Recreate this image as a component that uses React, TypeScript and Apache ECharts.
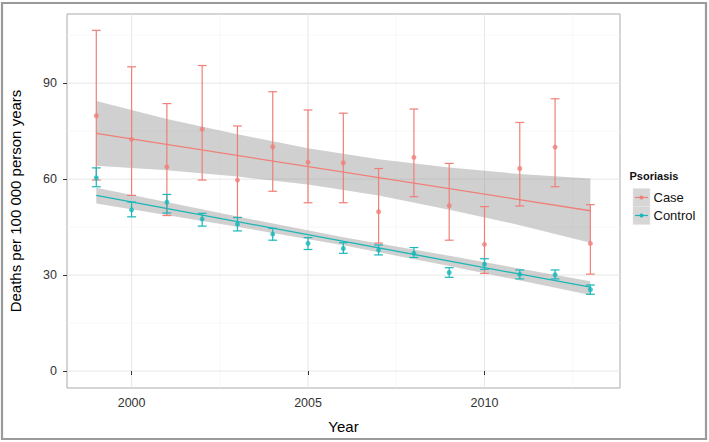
import React, { useEffect, useRef } from "react";
import * as echarts from "echarts";

// ---- data ----
const years = [1999, 2000, 2001, 2002, 2003, 2004, 2005, 2006, 2007, 2008, 2009, 2010, 2011, 2012, 2013];

const caseRate = [79.8, 72.4, 63.8, 75.6, 59.7, 70.1, 65.3, 65.1, 49.8, 66.8, 51.7, 39.6, 63.3, 70.0, 39.9];
const caseLow = [59.7, 54.9, 48.6, 59.7, 48.0, 56.2, 52.6, 52.6, 40.0, 54.5, 40.9, 30.5, 51.6, 57.6, 30.3];
const caseHigh = [106.5, 95.1, 83.6, 95.5, 76.6, 87.3, 81.6, 80.6, 63.3, 81.9, 64.9, 51.4, 77.7, 85.1, 52.0];

const controlRate = [60.4, 50.4, 52.8, 47.5, 45.9, 42.8, 39.9, 38.3, 37.8, 36.8, 30.8, 33.4, 30.2, 30.1, 25.5];
const controlLow = [57.6, 48.2, 49.4, 45.3, 43.8, 40.9, 38.0, 36.8, 36.3, 35.5, 29.3, 31.8, 28.8, 28.8, 24.0];
const controlHigh = [63.5, 52.8, 55.2, 49.3, 48.0, 44.6, 41.7, 40.1, 39.4, 38.6, 32.3, 35.1, 31.6, 31.6, 26.9];

// fitted trend lines (end points)
const caseFit = [[1999, 74.3], [2013, 50.1]];
const controlFit = [[1999, 54.9], [2013, 26.2]];

// confidence bands
const caseBandYears = [1999, 2001, 2003, 2005, 2007, 2009, 2011, 2013];
const caseBandUpper = [84.4, 78.8, 74.0, 69.6, 66.2, 63.6, 61.6, 60.2];
const caseBandLower = [64.2, 62.8, 60.8, 58.3, 54.9, 50.4, 45.6, 40.1];

const controlBandYears = [1999, 2003, 2006, 2009, 2013];
const controlBandUpper = [57.3, 48.3, 41.8, 36.0, 28.1];
const controlBandLower = [52.4, 45.1, 39.3, 32.8, 23.8];

const xTicks = [2000, 2005, 2010];
const xMinorGrid = [2002.5, 2007.5, 2012.5];
const yTicks = [0, 30, 60, 90];
const yMinorGrid = [15, 45, 75, 105];

const groupNames = ["Case", "Control"];
const legendTitle = "Psoriasis";
const xTitle = "Year";
const yTitle = "Deaths per 100 000 person years";

const X_MIN = 1998.17;
const X_MAX = 2013.84;
const Y_MIN = -5.3;
const Y_MAX = 111.6;

const CASE_COLOR = "#EF7F78";
const CONTROL_COLOR = "#1AB6B8";
const FONT = "Liberation Sans, Arial, sans-serif";

function gridSeries() {
  const items: any[] = [];
  xTicks.forEach((v) => items.push([0, v, 1]));
  xMinorGrid.forEach((v) => items.push([0, v, 0]));
  yTicks.forEach((v) => items.push([1, v, 1]));
  yMinorGrid.forEach((v) => items.push([1, v, 0]));
  return {
    type: "custom",
    silent: true,
    z: 0,
    data: items,
    encode: { x: 1, y: 1 },
    renderItem: (params: any, api: any) => {
      const dir = api.value(0);
      const v = api.value(1);
      const major = api.value(2) === 1;
      let a: number[];
      let b: number[];
      if (dir === 0) {
        a = api.coord([v, Y_MIN]);
        b = api.coord([v, Y_MAX]);
      } else {
        a = api.coord([X_MIN, v]);
        b = api.coord([X_MAX, v]);
      }
      return {
        type: "line",
        shape: { x1: a[0], y1: a[1], x2: b[0], y2: b[1] },
        style: { stroke: major ? "#e6e6e6" : "#f3f3f3", lineWidth: major ? 1 : 0.7 },
      };
    },
  };
}

function bandSeries(bx: number[], up: number[], lo: number[]) {
  return {
    type: "custom",
    silent: true,
    z: 2,
    data: bx.map((x, i) => [x, lo[i], up[i]]),
    encode: { x: 0, y: [1, 2] },
    renderItem: (params: any, api: any) => {
      if (params.dataIndexInside !== 0) return { type: "group", children: [] };
      const n = params.dataInsideLength;
      const pts: number[][] = [];
      for (let i = 0; i < n; i++) pts.push(api.coord([api.value(0, i), api.value(2, i)]));
      for (let i = n - 1; i >= 0; i--) pts.push(api.coord([api.value(0, i), api.value(1, i)]));
      return {
        type: "polygon",
        shape: { points: pts },
        style: { fill: "rgba(150,150,150,0.45)", stroke: "none" },
      };
    },
  };
}

function errorSeries(lo: number[], hi: number[], color: string) {
  const capHalf = 0.125;
  return {
    type: "custom",
    silent: true,
    z: 4,
    data: years.map((x, i) => [x, lo[i], hi[i]]),
    encode: { x: 0, y: [1, 2] },
    renderItem: (params: any, api: any) => {
      const x = api.value(0);
      const l = api.value(1);
      const h = api.value(2);
      const top = api.coord([x, h]);
      const bot = api.coord([x, l]);
      const tl = api.coord([x - capHalf, h]);
      const tr = api.coord([x + capHalf, h]);
      const bl = api.coord([x - capHalf, l]);
      const br = api.coord([x + capHalf, l]);
      const style = { stroke: color, lineWidth: 1.2 };
      return {
        type: "group",
        children: [
          { type: "line", shape: { x1: top[0], y1: top[1], x2: bot[0], y2: bot[1] }, style },
          { type: "line", shape: { x1: tl[0], y1: tl[1], x2: tr[0], y2: tr[1] }, style },
          { type: "line", shape: { x1: bl[0], y1: bl[1], x2: br[0], y2: br[1] }, style },
        ],
      };
    },
  };
}

function legendKey(y: number, color: string, label: string) {
  return [
    { type: "rect", shape: { x: 633, y, width: 17, height: 18 }, style: { fill: "#d6d6d6", stroke: "#e4e4e4", lineWidth: 0.5 } },
    { type: "line", shape: { x1: 635, y1: y + 9, x2: 648, y2: y + 9 }, style: { stroke: color, lineWidth: 1.2 } },
    { type: "circle", shape: { cx: 641.5, cy: y + 9, r: 2 }, style: { fill: color } },
    {
      type: "text",
      x: 653.5,
      y: y + 9,
      style: { text: label, font: `13px ${FONT}`, fill: "#111", verticalAlign: "middle", align: "left" },
    },
  ];
}

export default function App() {
  const ref = useRef<HTMLDivElement>(null);
  useEffect(() => {
    if (!ref.current) return;
    const chart = echarts.init(ref.current, undefined, { renderer: "svg" });
    const option: any = {
      animation: false,
      backgroundColor: "#ffffff",
      textStyle: { fontFamily: FONT },
      grid: {
        left: 62,
        top: 14,
        right: 89,
        bottom: 54,
        show: true,
        borderColor: "#ababab",
        borderWidth: 1,
        backgroundColor: "#ffffff",
        containLabel: false,
      },
      xAxis: {
        type: "value",
        min: X_MIN,
        max: X_MAX,
        splitLine: { show: false },
        axisLine: { show: false },
        axisTick: { show: true, customValues: xTicks, length: 4, lineStyle: { color: "#333" } },
        axisLabel: {
          customValues: xTicks,
          margin: 8,
          fontSize: 12.5,
          color: "#333",
          fontFamily: FONT,
          formatter: (v: number) => String(v),
        },
        name: xTitle,
        nameLocation: "middle",
        nameGap: 31,
        nameTextStyle: { fontSize: 15, color: "#000", fontFamily: FONT },
      },
      yAxis: {
        type: "value",
        min: Y_MIN,
        max: Y_MAX,
        splitLine: { show: false },
        axisLine: { show: false },
        axisTick: { show: true, customValues: yTicks, length: 4, lineStyle: { color: "#333" } },
        axisLabel: {
          customValues: yTicks,
          margin: 10,
          fontSize: 12.5,
          color: "#333",
          fontFamily: FONT,
          formatter: (v: number) => String(v),
        },
        name: yTitle,
        nameLocation: "middle",
        nameGap: 44,
        nameTextStyle: { fontSize: 15, color: "#000", fontFamily: FONT },
      },
      graphic: [
        {
          type: "rect",
          shape: { x: 2, y: 3, width: 704, height: 436 },
          style: { fill: "none", stroke: "#9a9a9a", lineWidth: 2.2 },
          silent: true,
          z: 100,
        },
        {
          type: "text",
          x: 629.5,
          y: 176,
          style: { text: legendTitle, font: `bold 11px ${FONT}`, fill: "#111", verticalAlign: "middle", align: "left" },
        },
        ...legendKey(188.5, CASE_COLOR, groupNames[0]),
        ...legendKey(206.5, CONTROL_COLOR, groupNames[1]),
      ],
      series: [
        gridSeries(),
        bandSeries(caseBandYears, caseBandUpper, caseBandLower),
        bandSeries(controlBandYears, controlBandUpper, controlBandLower),
        {
          type: "line",
          name: groupNames[0],
          data: caseFit,
          showSymbol: false,
          silent: true,
          z: 3,
          lineStyle: { color: CASE_COLOR, width: 1.3 },
        },
        {
          type: "line",
          name: groupNames[1],
          data: controlFit,
          showSymbol: false,
          silent: true,
          z: 3,
          lineStyle: { color: CONTROL_COLOR, width: 1.3 },
        },
        errorSeries(caseLow, caseHigh, CASE_COLOR),
        errorSeries(controlLow, controlHigh, CONTROL_COLOR),
        {
          type: "scatter",
          data: years.map((x, i) => [x, caseRate[i]]),
          symbolSize: 5,
          silent: true,
          z: 5,
          itemStyle: { color: CASE_COLOR },
        },
        {
          type: "scatter",
          data: years.map((x, i) => [x, controlRate[i]]),
          symbolSize: 5,
          silent: true,
          z: 5,
          itemStyle: { color: CONTROL_COLOR },
        },
      ],
    };
    chart.setOption(option);
    return () => chart.dispose();
  }, []);
  return (
    <div
      ref={ref}
      style={{ position: "absolute", left: 0, top: 0, width: 709, height: 442 }}
    />
  );
}
